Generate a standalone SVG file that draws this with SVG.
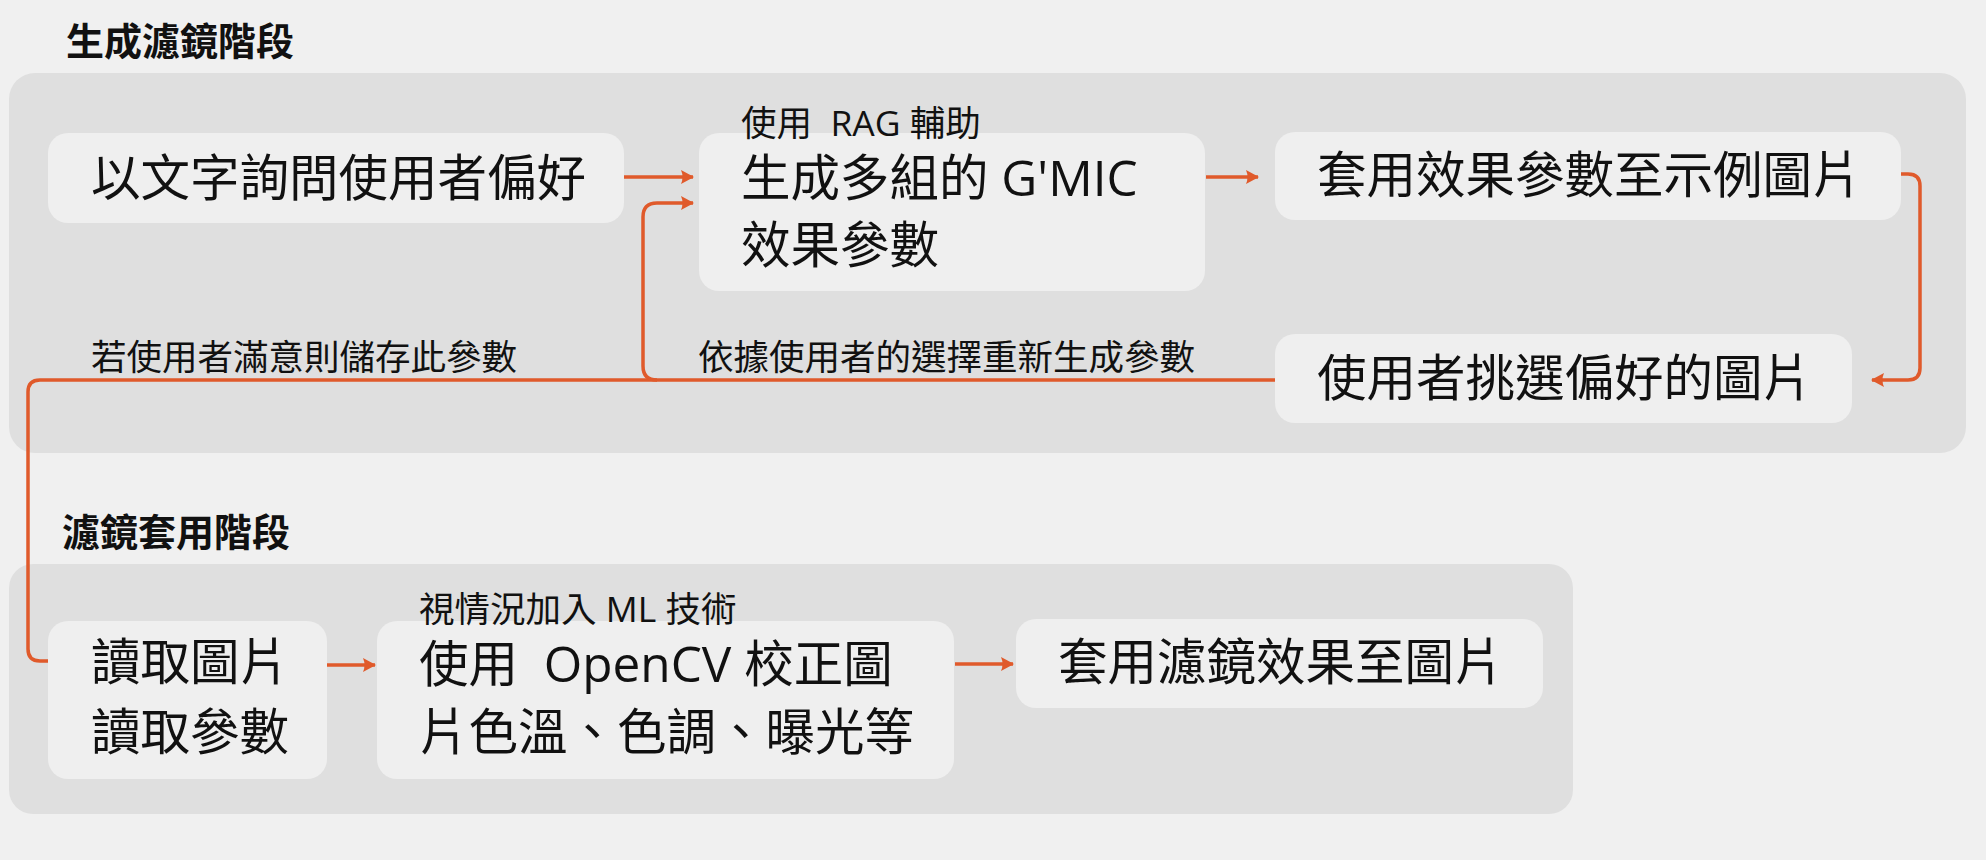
<svg xmlns="http://www.w3.org/2000/svg" width="1986" height="860" viewBox="0 0 1986 860">
<defs>
<style>
.panel{fill:#dfdfdf}
.node{fill:#efefef}
.t{font-family:"Open Sans","Noto Sans CJK TC","Noto Sans",sans-serif;fill:#111;white-space:pre}
.main{font-size:49.5px}
.lbl{font-size:35.5px}
.title{font-size:38px;font-weight:bold}
.c{fill:none;stroke:#e05a2b;stroke-width:3.5}
</style>
<marker id="ah" markerUnits="userSpaceOnUse" markerWidth="14" markerHeight="16" viewBox="0 0 14 16" refX="12" refY="8" orient="auto">
<path d="M0 1 L13 8 L0 15 Q3 8 0 1 Z" fill="#e05a2b"/>
</marker>
</defs>
<rect width="1986" height="860" fill="#f0f0f0"/>
<g id="phase1">
<text class="t title" x="66" y="55">生成濾鏡階段</text>
<rect class="panel" x="9" y="73" width="1957" height="380" rx="26"/>
</g>
<g id="phase2">
<text class="t title" x="62" y="546">濾鏡套用階段</text>
<rect class="panel" x="9" y="564" width="1564" height="250" rx="24"/>
</g>
<g id="connectors">
<path class="c" d="M624 177 H693" marker-end="url(#ah)"/>
<path class="c" d="M1206 177 H1258" marker-end="url(#ah)"/>
<path class="c" d="M1901 174 H1908 Q1920 174 1920 186 V368 Q1920 380 1908 380 H1872" marker-end="url(#ah)"/>
<path class="c" d="M1275 380 H40 Q28 380 28 392 V649 Q28 661 40 661 H48"/>
<path class="c" d="M657 380 Q643 380 643 366 V217 Q643 203 657 203 H693" marker-end="url(#ah)"/>
<path class="c" d="M327 665 H375" marker-end="url(#ah)"/>
<path class="c" d="M955 664 H1013" marker-end="url(#ah)"/>
<text class="t lbl" x="91" y="370">若使用者滿意則儲存此參數</text>
<text class="t lbl" x="698" y="370">依據使用者的選擇重新生成參數</text>
</g>
<g id="n1">
<rect class="node" x="48" y="133" width="576" height="90" rx="20"/>
<text class="t main" x="91" y="196">以文字詢問使用者偏好</text>
</g>
<g id="n2">
<rect class="node" x="699" y="133" width="506" height="158" rx="20"/>
<text class="t main" x="741" y="196">生成多組的 G'MIC</text>
<text class="t main" x="741" y="263">效果參數</text>
<text class="t lbl" x="741" y="136">使用  RAG 輔助</text>
</g>
<g id="n3">
<rect class="node" x="1275" y="132" width="626" height="88" rx="20"/>
<text class="t main" x="1317" y="193">套用效果參數至示例圖片</text>
</g>
<g id="n4">
<rect class="node" x="1275" y="334" width="577" height="89" rx="20"/>
<text class="t main" x="1317" y="396">使用者挑選偏好的圖片</text>
</g>
<g id="n5">
<rect class="node" x="48" y="621" width="279" height="158" rx="20"/>
<text class="t main" x="91" y="680">讀取圖片</text>
<text class="t main" x="91" y="750">讀取參數</text>
</g>
<g id="n6">
<rect class="node" x="377" y="621" width="577" height="158" rx="20"/>
<text class="t main" x="419" y="682">使用  OpenCV 校正圖</text>
<text class="t main" x="419" y="750">片色溫、色調、曝光等</text>
<text class="t lbl" x="419" y="622">視情況加入 ML 技術</text>
</g>
<g id="n7">
<rect class="node" x="1016" y="619" width="527" height="89" rx="20"/>
<text class="t main" x="1058" y="680">套用濾鏡效果至圖片</text>
</g>
</svg>
